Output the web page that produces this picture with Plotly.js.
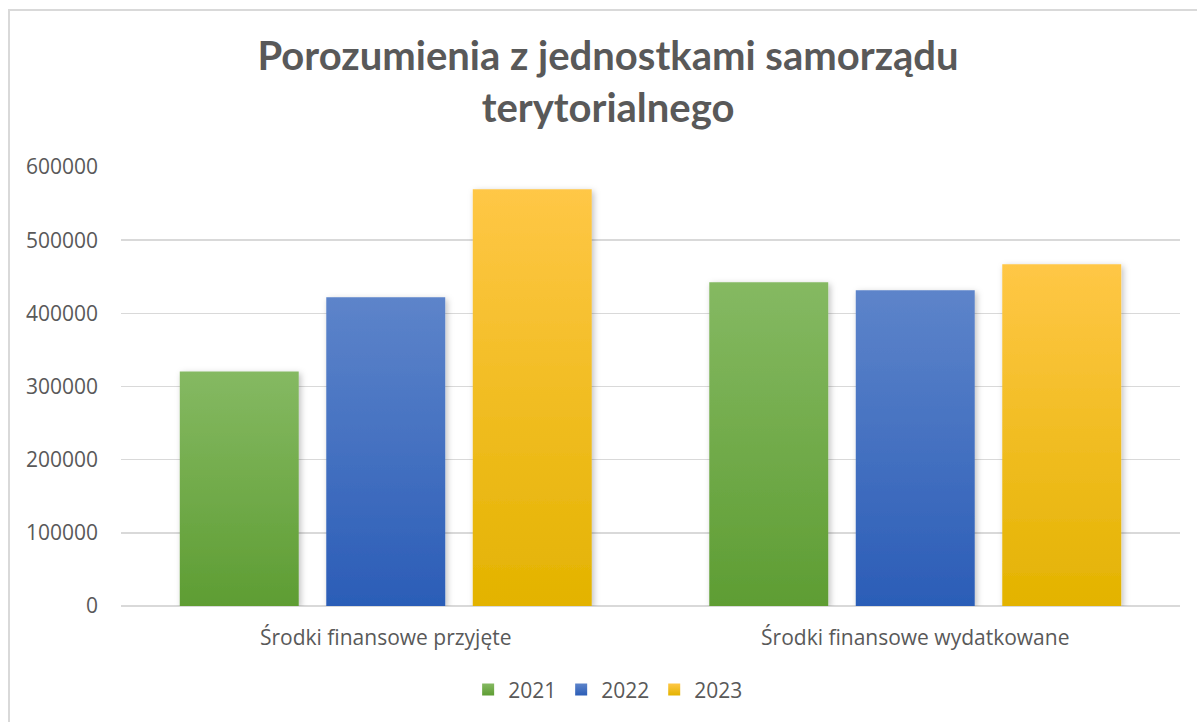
<!DOCTYPE html>
<html>
<head>
<meta charset="utf-8">
<script src="https://cdn.plot.ly/plotly-3.0.1.min.js"></script>
<style>
  html, body { margin: 0; padding: 0; background: #fff; }
  #chart { width: 1197px; height: 722px; }
  #frame { position: absolute; left: 8px; top: 9px; width: 1200px; height: 720px;
           border-left: 2px solid #d9d9d9; border-top: 2px solid #d9d9d9; pointer-events: none; }
</style>
</head>
<body>
<div id="chart"></div>
<div id="frame"></div>
<script>
const categories = ["Środki finansowe przyjęte", "Środki finansowe wydatkowane"];
const seriesNames = ["2021", "2022", "2023"];
const values2021 = [320500, 442500];
const values2022 = [422000, 431500];
const values2023 = [569500, 467000];
const yTicks = [0, 100000, 200000, 300000, 400000, 500000, 600000];

const baseColors = ["#70ad47", "#4472c4", "#ffc000"];
const gradStops = [
  ["#85b962", "#5e9d33"],
  ["#5d84ca", "#2b5db7"],
  ["#ffc746", "#e3b300"]
];
const allValues = [values2021, values2022, values2023];

const traces = seriesNames.map((name, i) => ({
  type: "bar",
  name: name,
  x: categories,
  y: allValues[i],
  marker: { color: baseColors[i], line: { width: 0 } },
  hoverinfo: "skip"
}));

const layout = {
  width: 1197,
  height: 722,
  paper_bgcolor: "#ffffff",
  plot_bgcolor: "#ffffff",
  margin: { l: 121, r: 17, t: 167, b: 116, pad: 0 },
  barmode: "group",
  bargap: 0.17,
  bargroupgap: 0.188,
  font: { family: "Open Sans, sans-serif", color: "#595959", size: 21 },
  title: {
    text: "Porozumienia z jednostkami samorządu<br>terytorialnego",
    font: { family: "Lato, sans-serif", size: 40, color: "#595959", weight: "bold" },
    x: 0.508, xanchor: "center", xref: "container",
    y: 0.903, yanchor: "top", yref: "container"
  },
  xaxis: {
    showgrid: false, zeroline: false, showline: false,
    ticks: "", ticklabelstandoff: 17,
    tickfont: { family: "Open Sans, sans-serif", size: 21, color: "#595959" }
  },
  yaxis: {
    range: [0, 600000],
    tickvals: yTicks,
    ticktext: yTicks.map(String),
    showgrid: true, gridcolor: "#d9d9d9", gridwidth: 1.5,
    zeroline: true, zerolinecolor: "#d9d9d9", zerolinewidth: 2,
    showline: false, ticks: "", ticklabelstandoff: 22,
    tickfont: { family: "Open Sans, sans-serif", size: 21, color: "#595959" }
  },
  showlegend: true,
  legend: {
    orientation: "h",
    x: 0.46, xanchor: "center",
    y: -0.191, yanchor: "middle",
    font: { family: "Open Sans, sans-serif", size: 21, color: "#595959" },
    itemwidth: 30,
    traceorder: "normal"
  }
};

Plotly.newPlot("chart", traces, layout, { displayModeBar: false, staticPlot: true }).then(gd => {
  const svg = gd.querySelector("svg.main-svg");
  const ns = "http://www.w3.org/2000/svg";
  let defs = svg.querySelector("defs");
  if (!defs) { defs = document.createElementNS(ns, "defs"); svg.insertBefore(defs, svg.firstChild); }
  gradStops.forEach((st, i) => {
    const g = document.createElementNS(ns, "linearGradient");
    g.setAttribute("id", "barGrad" + i);
    g.setAttribute("x1", "0"); g.setAttribute("y1", "0");
    g.setAttribute("x2", "0"); g.setAttribute("y2", "1");
    const s1 = document.createElementNS(ns, "stop");
    s1.setAttribute("offset", "0"); s1.setAttribute("stop-color", st[0]);
    const s2 = document.createElementNS(ns, "stop");
    s2.setAttribute("offset", "1"); s2.setAttribute("stop-color", st[1]);
    g.appendChild(s1); g.appendChild(s2);
    defs.appendChild(g);
  });
  const f = document.createElementNS(ns, "filter");
  f.setAttribute("id", "barShadow");
  f.setAttribute("x", "-10%"); f.setAttribute("y", "-10%");
  f.setAttribute("width", "130%"); f.setAttribute("height", "130%");
  const ds = document.createElementNS(ns, "feDropShadow");
  ds.setAttribute("dx", "2"); ds.setAttribute("dy", "2");
  ds.setAttribute("stdDeviation", "3"); ds.setAttribute("flood-color", "#000");
  ds.setAttribute("flood-opacity", "0.25");
  f.appendChild(ds); defs.appendChild(f);

  gd.querySelectorAll(".barlayer .trace.bars").forEach((tr, i) => {
    tr.querySelectorAll("path").forEach(p => {
      p.style.fill = "url(#barGrad" + i + ")";
      p.setAttribute("filter", "url(#barShadow)");
    });
  });
  gd.querySelectorAll(".legend .traces").forEach((tr, i) => {
    tr.querySelectorAll(".legendpoints path").forEach(p => {
      p.style.fill = "url(#barGrad" + i + ")";
    });
  });
});
</script>
</body>
</html>
